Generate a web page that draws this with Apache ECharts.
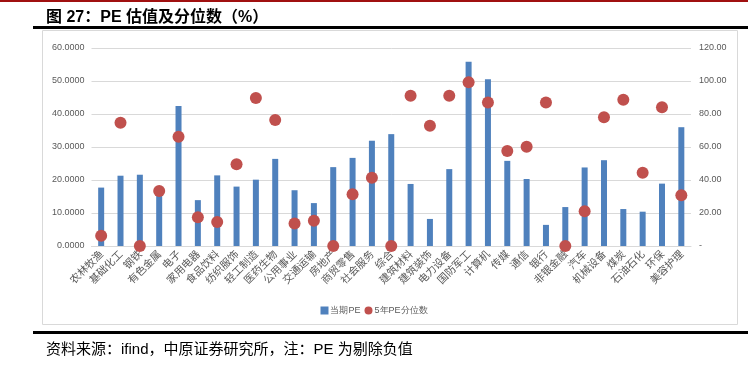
<!DOCTYPE html>
<html>
<head>
<meta charset="utf-8">
<script src="https://cdn.jsdelivr.net/npm/echarts@6/dist/echarts.min.js"></script>
<style>
  html, body { margin: 0; padding: 0; background: #fff; }
  #main { width: 748px; height: 365px; }
</style>
</head>
<body>
<div id="main"></div>
<script>
// 行业
const industries = ['农林牧渔', '基础化工', '钢铁', '有色金属', '电子', '家用电器', '食品饮料', '纺织服饰',
  '轻工制造', '医药生物', '公用事业', '交通运输', '房地产', '商贸零售', '社会服务', '综合', '建筑材料',
  '建筑装饰', '电力设备', '国防军工', '计算机', '传媒', '通信', '银行', '非银金融', '汽车', '机械设备',
  '煤炭', '石油石化', '环保', '美容护理'];
// 当期PE
const peNow = [17.7, 21.3, 21.6, 17.0, 42.4, 13.9, 21.4, 18.0, 20.1, 26.4, 16.9, 13.0, 23.9, 26.7, 31.9,
  33.9, 18.8, 8.2, 23.3, 55.8, 50.5, 25.8, 20.3, 6.4, 11.8, 23.8, 26.0, 11.2, 10.4, 18.9, 36.0];
// 5年PE分位数
const pePct = [6.2, 74.7, 0, 33.3, 66.2, 17.4, 14.5, 49.5, 89.7, 76.4, 13.7, 15.3, 0, 31.3, 41.4,
  0, 91.1, 72.9, 91.1, 99.2, 86.9, 57.6, 60.2, 86.9, 0, 21.0, 78.0, 88.7, 44.4, 84.1, 30.7];

const labelColor = '#595959';
const chart = echarts.init(document.getElementById('main'));

chart.setOption({
  animation: false,
  title: [
    {
      text: '图 27：PE 估值及分位数（%）',
      left: 41, top: 5,
      textStyle: { fontSize: 16, fontWeight: 'bold', color: '#000', fontFamily: 'Liberation Sans, Noto Sans CJK SC' }
    },
    {
      text: '资料来源：ifind，中原证券研究所，注：PE 为剔除负值',
      left: 41, top: 337,
      textStyle: { fontSize: 15, fontWeight: 'normal', color: '#000', fontFamily: 'Liberation Sans, Noto Sans CJK SC' }
    }
  ],
  graphic: [
    { type: 'rect', shape: { x: 0, y: 0, width: 748, height: 2 }, style: { fill: '#a01010' } },
    { type: 'rect', shape: { x: 33, y: 26, width: 715, height: 3 }, style: { fill: '#000' } },
    { type: 'rect', shape: { x: 42.5, y: 30.5, width: 695, height: 294 }, style: { fill: 'none', stroke: '#d9d9d9', lineWidth: 1 }, z: -1 },
    { type: 'rect', shape: { x: 33, y: 331, width: 715, height: 3 }, style: { fill: '#000' } }
  ],
  legend: {
    data: [
      { name: '当期PE', icon: 'rect' },
      { name: '5年PE分位数', icon: 'circle' }
    ],
    left: 'center', top: 301,
    itemWidth: 8, itemHeight: 8, itemGap: 4,
    textStyle: { fontSize: 9, color: labelColor, padding: [0, 0, 0, -3] }
  },
  grid: { left: 91.5, right: 57, top: 48, bottom: 119 },
  xAxis: {
    type: 'category',
    data: industries,
    axisTick: { show: false },
    axisLine: { lineStyle: { color: '#d9d9d9' } },
    axisLabel: { rotate: 45, fontSize: 10.5, color: labelColor, margin: 6, interval: 0, fontFamily: 'Noto Sans CJK SC' }
  },
  yAxis: [
    {
      type: 'value', min: 0, max: 60, interval: 10,
      axisLabel: { fontSize: 9, color: labelColor, margin: 7, formatter: v => v.toFixed(4) },
      splitLine: { lineStyle: { color: '#d9d9d9' } }
    },
    {
      type: 'value', min: 0, max: 120, interval: 20,
      axisLabel: { fontSize: 9, color: labelColor, margin: 8, formatter: v => v === 0 ? '-' : v.toFixed(2) },
      splitLine: { show: false }
    }
  ],
  series: [
    {
      name: '当期PE', type: 'bar', data: peNow, barWidth: 6,
      itemStyle: { color: '#4f81bd' }
    },
    {
      name: '5年PE分位数', type: 'scatter', yAxisIndex: 1, data: pePct, symbolSize: 12,
      itemStyle: { color: '#c0504d', opacity: 1 }
    }
  ]
});
</script>
</body>
</html>
